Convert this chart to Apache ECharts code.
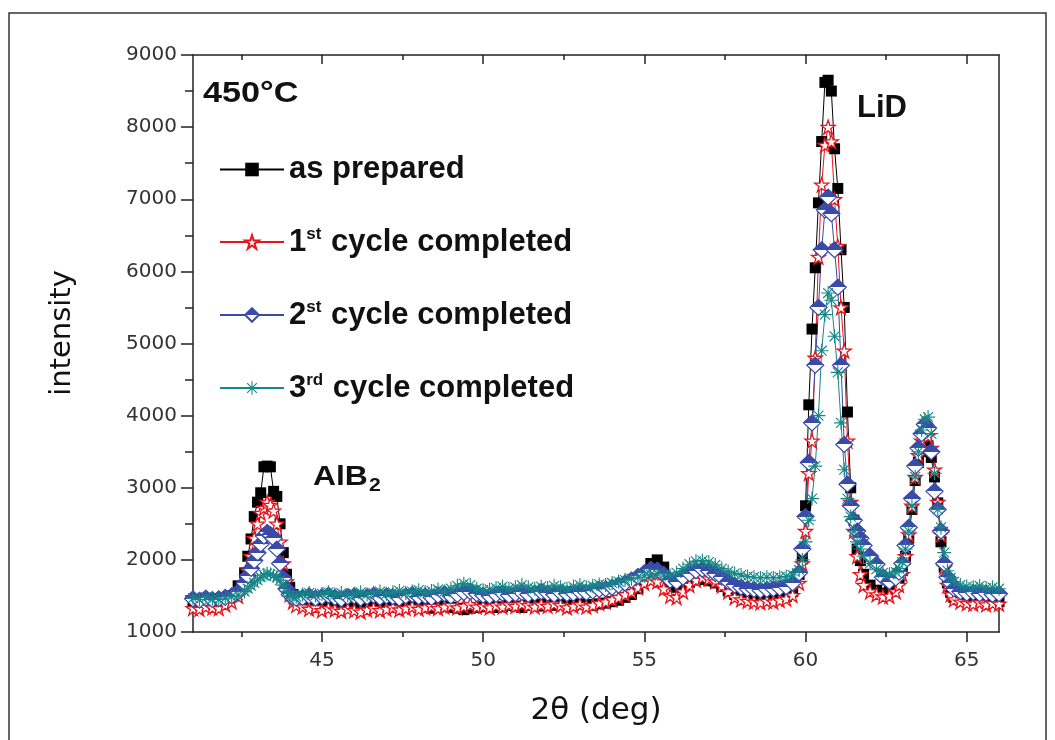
<!DOCTYPE html>
<html>
<head>
<meta charset="utf-8">
<script src="https://cdn.jsdelivr.net/npm/echarts@6.0.0/dist/echarts.min.js"></script>
<style>
html,body{margin:0;padding:0;background:#fff;}
#chart{width:1055px;height:740px;}
</style>
</head>
<body>
<div id="chart"></div>
<script>
// 2-theta positions (deg)
const twoTheta = [
  41.0, 41.2, 41.4, 41.6, 41.8, 42.0, 42.2, 42.4, 42.6,
  42.7, 42.8, 42.9, 43.0, 43.1, 43.2, 43.3, 43.4, 43.5, 43.6, 43.7, 43.8, 43.9, 44.0, 44.1, 44.2,
  44.4, 44.6, 44.8, 45.0, 45.2, 45.4, 45.6, 45.8, 46.0, 46.2,
  46.4, 46.6, 46.8, 47.0, 47.2, 47.4, 47.6, 47.8, 48.0, 48.2,
  48.4, 48.6, 48.8, 49.0, 49.2, 49.4, 49.6, 49.8, 50.0, 50.2,
  50.4, 50.6, 50.8, 51.0, 51.2, 51.4, 51.6, 51.8, 52.0, 52.2,
  52.4, 52.6, 52.8, 53.0, 53.2, 53.4, 53.6, 53.8, 54.0, 54.2,
  54.4, 54.6, 54.8, 55.0, 55.2, 55.4, 55.6, 55.8, 56.0, 56.2,
  56.4, 56.6, 56.8, 57.0, 57.2, 57.4, 57.6, 57.8, 58.0, 58.2,
  58.4, 58.6, 58.8, 59.0, 59.2, 59.4, 59.6, 59.8,
  59.9, 60.0, 60.1, 60.2, 60.3, 60.4, 60.5, 60.6, 60.7, 60.8, 60.9, 61.0, 61.1, 61.2, 61.3, 61.4, 61.5, 61.6, 61.7, 61.8,
  62.0, 62.2, 62.4, 62.6, 62.8,
  62.9, 63.0, 63.1, 63.2, 63.3, 63.4, 63.5, 63.6, 63.7, 63.8, 63.9, 64.0, 64.1, 64.2, 64.3, 64.4, 64.5, 64.6,
  64.8, 65.0, 65.2, 65.4, 65.6, 65.8, 66.0
];

const asPrepared = [
  1400, 1390, 1410, 1420, 1400, 1450, 1500, 1640, 1820,
  2050, 2290, 2600, 2800, 2930, 3290, 3300, 3290, 2950, 2880, 2500, 2100, 1800, 1620, 1520, 1470,
  1420, 1400, 1390, 1380, 1400, 1370, 1360, 1380, 1350, 1370,
  1380, 1360, 1370, 1390, 1360, 1350, 1380, 1370, 1340, 1350,
  1330, 1340, 1360, 1340, 1330, 1310, 1330, 1340, 1350, 1360,
  1340, 1350, 1370, 1360, 1340, 1370, 1380, 1360, 1390, 1370,
  1380, 1360, 1370, 1390, 1380, 1370, 1390, 1400, 1420, 1440,
  1480, 1520, 1600, 1720, 1950, 2000, 1900, 1680, 1620, 1650,
  1690, 1720, 1730, 1710, 1680, 1630, 1570, 1520, 1490, 1470,
  1460, 1450, 1460, 1450, 1470, 1490, 1560, 1800,
  2050, 2750, 4150, 5200, 6050, 6950, 7800, 8620, 8650, 8500, 7700, 7150, 6300, 5500, 4050, 3000, 2550, 2150, 1990, 1800,
  1650, 1580, 1540, 1560, 1640,
  1720, 1850, 2050, 2300, 2700, 3100, 3350, 3500, 3600, 3580, 3420, 3150, 2790, 2250, 1900, 1680, 1550, 1480,
  1440, 1420, 1410, 1430, 1400, 1410, 1420
];

const cycle1 = [
  1330, 1320, 1350, 1340, 1330, 1380, 1420, 1500, 1680,
  1850, 2050, 2300, 2500, 2650, 2720, 2800, 2760, 2680, 2500, 2250, 1950, 1700, 1520, 1420, 1370,
  1350, 1320, 1340, 1300, 1330, 1310, 1290, 1320, 1300, 1280,
  1310, 1330, 1300, 1320, 1340, 1310, 1330, 1350, 1320, 1340,
  1360, 1330, 1350, 1370, 1340, 1360, 1380, 1350, 1360, 1340,
  1370, 1350, 1380, 1360, 1390, 1370, 1350, 1380, 1360, 1390,
  1370, 1340, 1360, 1380, 1350, 1370, 1400, 1420, 1450, 1480,
  1520, 1560, 1620, 1680, 1720, 1700, 1600, 1500, 1480, 1560,
  1650, 1720, 1760, 1740, 1700, 1640, 1560, 1480, 1450, 1430,
  1420, 1410, 1430, 1420, 1440, 1460, 1510, 1680,
  1950, 2400, 3200, 3650, 4800, 6200, 7200, 7750, 8000, 7800, 7000, 6350, 5500, 4900, 3650, 2800, 2400, 2050, 1800, 1650,
  1560, 1520, 1490, 1500, 1560,
  1650, 1800, 2050, 2350, 2750, 3150, 3450, 3650, 3750, 3720, 3550, 3250, 2800, 2350, 1900, 1650, 1520, 1450,
  1420, 1400, 1390, 1410, 1380, 1400, 1390
];

const cycle2 = [
  1460, 1440, 1470, 1450, 1460, 1480, 1500, 1560, 1680,
  1780, 1880, 1990, 2100, 2220, 2330, 2380, 2350, 2300, 2150, 1950, 1750, 1600, 1520, 1480, 1470,
  1480, 1500, 1470, 1490, 1510, 1480, 1460, 1490, 1500, 1470,
  1490, 1510, 1480, 1500, 1490, 1470, 1500, 1520, 1490, 1500,
  1480, 1510, 1530, 1500, 1520, 1550, 1560, 1530, 1510, 1500,
  1520, 1540, 1510, 1530, 1550, 1520, 1540, 1560, 1540, 1520,
  1550, 1530, 1540, 1560, 1550, 1570, 1590, 1600, 1620, 1650,
  1680, 1720, 1770, 1820, 1870, 1860, 1800, 1720, 1700, 1760,
  1810, 1850, 1870, 1850, 1810, 1760, 1700, 1650, 1620, 1600,
  1590, 1580, 1590, 1600, 1610, 1630, 1680, 1820,
  2150, 2600, 3350, 3900, 4700, 5500, 6300, 6850, 7030, 6800, 6300, 5780, 4700, 3600, 3050, 2750, 2550, 2400, 2300, 2200,
  2050, 1940, 1760, 1700, 1750,
  1830, 1950, 2200, 2450, 2850, 3300, 3550, 3750, 3880, 3830, 3500, 2950, 2700, 2400, 1950, 1760, 1680, 1600,
  1560, 1540, 1550, 1530, 1540, 1520, 1530
];

const cycle3 = [
  1470, 1450, 1480, 1460, 1450, 1470, 1490, 1510, 1560,
  1600, 1640, 1680, 1720, 1760, 1790, 1810, 1800, 1780, 1760, 1720, 1650, 1560, 1500, 1480, 1490,
  1520, 1540, 1510, 1530, 1550, 1520, 1540, 1510, 1530, 1550,
  1520, 1540, 1560, 1530, 1550, 1570, 1540, 1560, 1580, 1550,
  1570, 1590, 1560, 1600, 1640, 1670, 1650, 1600, 1580, 1590,
  1610, 1630, 1600, 1620, 1650, 1620, 1600, 1630, 1610, 1640,
  1620, 1600, 1630, 1650, 1620, 1640, 1660, 1650, 1680, 1700,
  1720, 1740, 1760, 1780, 1800, 1810, 1790, 1780, 1820, 1880,
  1940, 1980, 1990, 1970, 1930, 1880, 1840, 1810, 1790, 1770,
  1760, 1750, 1760, 1750, 1760, 1770, 1790, 1860,
  2000, 2250, 2550, 2850, 3300, 4000, 4900, 5400, 5700, 5600, 5100, 4600, 3900, 3250, 2850, 2600, 2400, 2250, 2150, 2050,
  1950, 1870, 1820, 1800, 1830,
  1880, 1970, 2150, 2400, 2750, 3150, 3500, 3800, 3950, 3980, 3750, 3200, 2700, 2450, 2100, 1850, 1750, 1700,
  1650, 1630, 1620, 1640, 1610, 1620, 1600
];

const seriesNames = ['as prepared', '1st cycle completed', '2st cycle completed', '3rd cycle completed'];
const xMajorTicks = [45, 50, 55, 60, 65];
const xMinorTicks = [42.5, 47.5, 52.5, 57.5, 62.5];

const legendLabels = {
  'as prepared': '{n|as prepared}',
  '1st cycle completed': '{n|1}{s|st}{n| cycle completed}',
  '2st cycle completed': '{n|2}{s|st}{n| cycle completed}',
  '3rd cycle completed': '{n|3}{s|rd}{n| cycle completed}'
};

const BLACK = '#000000', RED = '#e8141c', BLUE = '#3a4aa8', TEAL = '#168787';

const starPath = 'path://M10,0 L12.35,7.26 L19.51,7.26 L13.58,11.73 L15.88,19.02 L10,14.5 L4.12,19.02 L6.42,11.73 L0.49,7.26 L7.65,7.26 Z';
const asteriskPath = 'path://M0,9.2 L20,9.2 L20,10.8 L0,10.8 Z M9.2,0 L10.8,0 L10.8,20 L9.2,20 Z M3.47,2.33 L17.67,16.53 L16.53,17.67 L2.33,3.47 Z M16.53,2.33 L17.67,3.47 L3.47,17.67 L2.33,16.53 Z';

function pairs(vals) { return twoTheta.map((x, i) => [x, vals[i]]); }

const halfDiamondFill = {
  type: 'linear', x: 0, y: 0, x2: 0, y2: 1,
  colorStops: [
    {offset: 0, color: BLUE}, {offset: 0.5, color: BLUE},
    {offset: 0.5, color: '#ffffff'}, {offset: 1, color: '#ffffff'}
  ]
};

const axisFont = 'DejaVu Sans';
const boldFont = 'Liberation Sans';

const option = {
  animation: false,
  backgroundColor: '#ffffff',
  grid: {left: 193, top: 55, right: 56, bottom: 108, containLabel: false},
  graphic: [
    {type: 'rect', shape: {x: 9, y: 13, width: 1037, height: 740},
     style: {fill: 'none', stroke: '#333', lineWidth: 1.5}, silent: true, z: 0},
    {type: 'text', x: 203, y: 94, scaleX: 1.14, silent: true,
     style: {text: '450°C', fontFamily: boldFont, fontWeight: 'bold', fontSize: 30, fill: '#111',
             align: 'left', verticalAlign: 'middle'}},
    {type: 'text', x: 857, y: 108, silent: true,
     style: {text: 'LiD', fontFamily: boldFont, fontWeight: 'bold', fontSize: 31, fill: '#111',
             align: 'left', verticalAlign: 'middle'}},
    {type: 'text', x: 313, y: 478, scaleX: 1.18, silent: true,
     style: {text: '{a|AlB}{b|2}', align: 'left', verticalAlign: 'middle',
             rich: {
               a: {fontFamily: boldFont, fontWeight: 'bold', fontSize: 27, fill: '#111', lineHeight: 30},
               b: {fontFamily: boldFont, fontWeight: 'bold', fontSize: 18, fill: '#111', lineHeight: 12, padding: [17, 0, 0, 1]}
             }}},
    {type: 'text', x: 62, y: 333, rotation: Math.PI / 2, silent: true,
     style: {text: 'intensity', fontFamily: axisFont, fontSize: 29, fill: '#111',
             align: 'center', verticalAlign: 'middle'}}
  ],
  legend: {
    orient: 'vertical', left: 214, top: 149,
    itemWidth: 64, itemHeight: 17, itemGap: 41,
    selectedMode: false,
    data: seriesNames,
    formatter: (name) => legendLabels[name],
    textStyle: {
      color: '#111',
      rich: {
        n: {fontFamily: boldFont, fontWeight: 'bold', fontSize: 31, lineHeight: 32, color: '#111'},
        s: {fontFamily: boldFont, fontWeight: 'bold', fontSize: 17, lineHeight: 15, padding: [0, 1, 15, 0], color: '#111'}
      }
    }
  },
  xAxis: [
    {type: 'value', min: 41, max: 66, position: 'bottom',
     axisLine: {show: true, onZero: false, lineStyle: {color: '#222', width: 1.5}},
     axisTick: {show: true, inside: false, length: 10, customValues: xMajorTicks, lineStyle: {color: '#222', width: 1.5}},
     axisLabel: {show: true, customValues: xMajorTicks, margin: 19, fontFamily: axisFont, fontSize: 20, color: '#333'},
     splitLine: {show: false},
     name: '2θ (deg)', nameLocation: 'middle', nameGap: 63,
     nameTextStyle: {fontFamily: axisFont, fontSize: 31, color: '#111'}},
    {type: 'value', min: 41, max: 66, position: 'bottom',
     axisLine: {show: false, onZero: false},
     axisTick: {show: true, inside: false, length: 5, customValues: xMinorTicks, lineStyle: {color: '#222', width: 1.5}},
     axisLabel: {show: false}, splitLine: {show: false}},
    {type: 'value', min: 41, max: 66, position: 'top',
     axisLine: {show: true, onZero: false, lineStyle: {color: '#222', width: 1.5}},
     axisTick: {show: true, inside: true, length: 9, customValues: xMajorTicks, lineStyle: {color: '#222', width: 1.5}},
     axisLabel: {show: false}, splitLine: {show: false}},
    {type: 'value', min: 41, max: 66, position: 'top',
     axisLine: {show: false, onZero: false},
     axisTick: {show: true, inside: true, length: 5, customValues: xMinorTicks, lineStyle: {color: '#222', width: 1.5}},
     axisLabel: {show: false}, splitLine: {show: false}}
  ],
  yAxis: [
    {type: 'value', min: 1000, max: 9000, interval: 1000, position: 'left',
     axisLine: {show: true, onZero: false, lineStyle: {color: '#222', width: 1.5}},
     axisTick: {show: true, inside: false, length: 12, lineStyle: {color: '#222', width: 1.5}},
     minorTick: {show: true, splitNumber: 2, length: 8, lineStyle: {color: '#222', width: 1.5}},
     axisLabel: {margin: 16, fontFamily: axisFont, fontSize: 20, color: '#333',
                 formatter: (v) => String(v)},
     splitLine: {show: false}},
    {type: 'value', min: 1000, max: 9000, position: 'right',
     axisLine: {show: true, onZero: false, lineStyle: {color: '#222', width: 1.5}},
     axisTick: {show: false}, axisLabel: {show: false}, splitLine: {show: false}}
  ],
  series: [
    {name: seriesNames[0], type: 'line', xAxisIndex: 0, yAxisIndex: 0, data: pairs(asPrepared),
     symbol: 'rect', symbolSize: 11,
     lineStyle: {color: BLACK, width: 1},
     itemStyle: {color: BLACK}},
    {name: seriesNames[1], type: 'line', xAxisIndex: 0, yAxisIndex: 0, data: pairs(cycle1),
     symbol: starPath, symbolSize: 14,
     lineStyle: {color: RED, width: 1},
     itemStyle: {color: '#ffffff', borderColor: RED, borderWidth: 1.3}},
    {name: seriesNames[2], type: 'line', xAxisIndex: 0, yAxisIndex: 0, data: pairs(cycle2),
     symbol: 'diamond', symbolSize: [17, 16],
     lineStyle: {color: BLUE, width: 1},
     itemStyle: {color: halfDiamondFill, borderColor: BLUE, borderWidth: 1.2}},
    {name: seriesNames[3], type: 'line', xAxisIndex: 0, yAxisIndex: 0, data: pairs(cycle3),
     symbol: asteriskPath, symbolSize: 14,
     lineStyle: {color: TEAL, width: 1},
     itemStyle: {color: TEAL}}
  ]
};

const chart = echarts.init(document.getElementById('chart'), null, {renderer: 'canvas'});
chart.setOption(option);
</script>
</body>
</html>
